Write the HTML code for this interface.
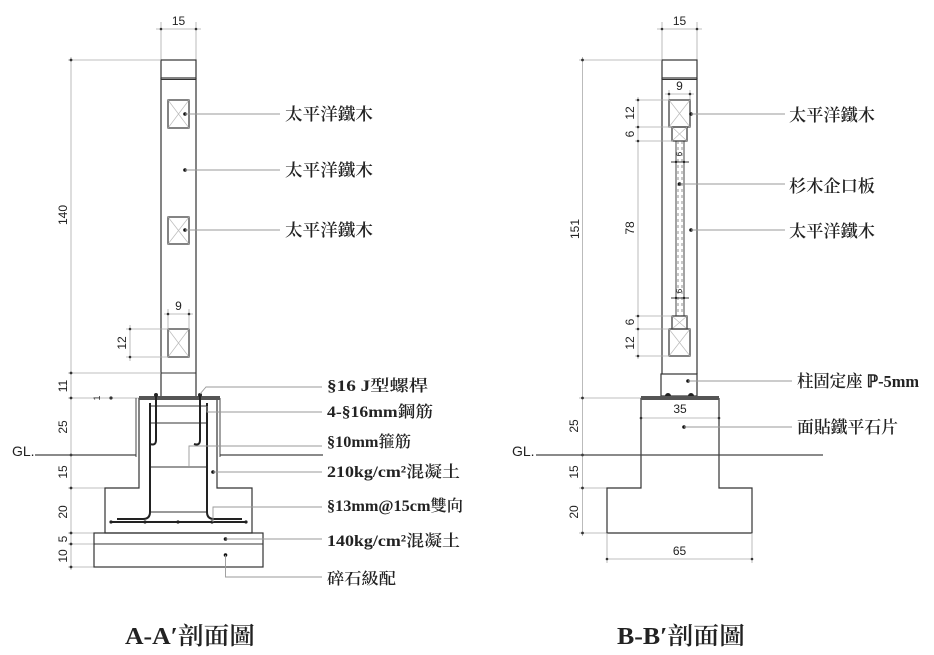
<!DOCTYPE html>
<html><head><meta charset="utf-8"><style>
html,body{margin:0;padding:0;background:#fff;}
svg{display:block;}
.m{stroke:#333;stroke-width:1.2;fill:none;}
.d{stroke:#aaa;stroke-width:0.8;fill:none;}
.l{stroke:#999;stroke-width:0.9;fill:none;}
.x{stroke:#bbb;stroke-width:0.7;fill:none;}
.r{stroke:#222;stroke-width:2;fill:none;}
.t{stroke:#333;stroke-width:0.9;fill:none;}
.dn{font-family:"Liberation Sans",sans-serif;font-size:12px;fill:#222;text-anchor:middle;}
.lb{font-family:"Liberation Serif","Noto Serif CJK SC",serif;font-size:17px;font-weight:600;fill:#222;}
.lb2{font-family:"Liberation Serif","Noto Serif CJK SC",serif;font-size:16px;font-weight:600;fill:#222;}
.gl{font-family:"Liberation Sans",sans-serif;font-size:14px;fill:#222;}
.tt{font-family:"Liberation Serif","Noto Serif CJK SC",serif;font-size:24px;font-weight:600;fill:#222;}
</style></head><body>
<svg width="934" height="655" viewBox="0 0 934 655" xmlns="http://www.w3.org/2000/svg">
<rect width="934" height="655" fill="#fff"/>

<!-- ================= LEFT (A-A') ================= -->
<!-- top dim 15 -->
<line class="d" x1="161" y1="22" x2="161" y2="60"/>
<line class="d" x1="196" y1="22" x2="196" y2="60"/>
<line class="d" x1="156" y1="29" x2="201" y2="29"/>
<circle cx="161" cy="29" r="1.3" fill="#333"/><circle cx="196" cy="29" r="1.3" fill="#333"/>
<text class="dn" x="178.5" y="25">15</text>

<!-- column -->
<rect class="m" x="161" y="60" width="35" height="18"/>
<line class="t" x1="161" y1="79.5" x2="196" y2="79.5"/>
<line class="m" x1="161" y1="78" x2="161" y2="396"/>
<line class="m" x1="196" y1="78" x2="196" y2="396"/>
<line class="t" x1="161" y1="373" x2="196" y2="373"/>

<!-- squares -->
<rect class="m" x="168" y="100" width="21" height="28"/>
<path class="x" d="M168,100 L189,128 M189,100 L168,128"/>
<rect class="m" x="168" y="217" width="21" height="27"/>
<path class="x" d="M168,217 L189,244 M189,217 L168,244"/>
<rect class="m" x="168" y="329" width="21" height="28"/>
<path class="x" d="M168,329 L189,357 M189,329 L168,357"/>

<!-- leaders top left -->
<circle cx="185" cy="114" r="1.8" fill="#111"/>
<circle cx="185" cy="170" r="1.8" fill="#111"/>
<circle cx="185" cy="230" r="1.8" fill="#111"/>
<line class="l" x1="185" y1="114" x2="280" y2="114"/>
<line class="l" x1="185" y1="170" x2="280" y2="170"/>
<line class="l" x1="185" y1="230" x2="280" y2="230"/>
<text class="lb" x="285" y="120" textLength="88" lengthAdjust="spacingAndGlyphs">太平洋鐵木</text>
<text class="lb" x="285" y="176" textLength="88" lengthAdjust="spacingAndGlyphs">太平洋鐵木</text>
<text class="lb" x="285" y="236" textLength="88" lengthAdjust="spacingAndGlyphs">太平洋鐵木</text>

<!-- 9 dim -->
<line class="d" x1="168" y1="309" x2="168" y2="329"/>
<line class="d" x1="189" y1="309" x2="189" y2="329"/>
<line class="d" x1="164" y1="314" x2="193" y2="314"/>
<circle cx="168" cy="314" r="1.3" fill="#333"/><circle cx="189" cy="314" r="1.3" fill="#333"/>
<text class="dn" x="178.5" y="310">9</text>
<!-- 12 dim -->
<line class="d" x1="126" y1="329" x2="168" y2="329"/>
<line class="d" x1="126" y1="357" x2="168" y2="357"/>
<line class="d" x1="130" y1="325" x2="130" y2="361"/>
<circle cx="130" cy="329" r="1.3" fill="#333"/><circle cx="130" cy="357" r="1.3" fill="#333"/>
<text class="dn" transform="translate(126,343) rotate(-90)">12</text>

<!-- main vertical dim -->
<line class="d" x1="71" y1="57" x2="71" y2="570"/>
<line class="d" x1="68" y1="60" x2="161" y2="60"/>
<line class="d" x1="68" y1="373" x2="161" y2="373"/>
<line class="d" x1="68" y1="398" x2="139" y2="398"/>
<line class="d" x1="68" y1="488" x2="105" y2="488"/>
<line class="d" x1="68" y1="533" x2="94" y2="533"/>
<line class="d" x1="68" y1="544" x2="94" y2="544"/>
<line class="d" x1="68" y1="567" x2="94" y2="567"/>
<g fill="#333">
<circle cx="71" cy="60" r="1.4"/><circle cx="71" cy="373" r="1.4"/><circle cx="71" cy="398" r="1.4"/>
<circle cx="71" cy="455" r="1.4"/><circle cx="71" cy="488" r="1.4"/><circle cx="71" cy="533" r="1.4"/>
<circle cx="71" cy="544" r="1.4"/><circle cx="71" cy="567" r="1.4"/>
<circle cx="111" cy="398" r="1.6"/>
</g>
<text class="dn" transform="translate(67,215) rotate(-90)">140</text>
<text class="dn" transform="translate(67,386) rotate(-90)">11</text>
<text class="dn" transform="translate(67,427) rotate(-90)">25</text>
<text class="dn" transform="translate(67,472) rotate(-90)">15</text>
<text class="dn" transform="translate(67,512) rotate(-90)">20</text>
<text class="dn" transform="translate(67,539) rotate(-90)">5</text>
<text class="dn" transform="translate(67,556) rotate(-90)">10</text>
<text class="dn" style="font-size:9px" transform="translate(100,398) rotate(-90)">1</text>

<!-- GL left -->
<text class="gl" x="12" y="456">GL.</text>
<line stroke="#444" stroke-width="1.3" x1="35" y1="455" x2="136" y2="455"/>
<line stroke="#444" stroke-width="1.3" x1="220" y1="455" x2="323" y2="455"/>

<!-- foundation -->
<path class="m" d="M139,398 L139,488 L105,488 L105,533 L252,533 L252,488 L217,488 L217,398"/>
<line class="t" x1="136" y1="398" x2="136" y2="457"/>
<line class="t" x1="220" y1="398" x2="220" y2="457"/>
<rect x="139" y="396" width="81" height="4" fill="#555"/>
<rect class="m" x="94" y="533" width="169" height="34"/>
<line class="t" x1="94" y1="544" x2="263" y2="544"/>

<!-- rebars -->
<path class="t" d="M150,406 L207,406 M150,423 L207,423 M150,467 L207,467 M150,512 L207,512"/>
<path class="r" d="M150,403 L150,512 Q150,519 143,519 L117,519"/>
<path class="r" d="M207,403 L207,512 Q207,519 214,519 L242,519"/>
<line class="r" x1="110" y1="522" x2="247" y2="522"/>
<g fill="#222"><circle cx="111" cy="522" r="1.6"/><circle cx="145" cy="522" r="1.6"/><circle cx="178" cy="522" r="1.6"/><circle cx="212" cy="522" r="1.6"/><circle cx="246" cy="522" r="1.6"/></g>
<path class="r" d="M156,395 L156,440 Q156,446 150,444"/>
<path class="r" d="M200,395 L200,440 Q200,446 194,444"/>
<circle cx="156" cy="395" r="2" fill="#222"/><circle cx="200" cy="395" r="2" fill="#222"/>

<!-- leaders bottom left -->
<path class="l" d="M200,394 L206,387 L322,387"/>
<path class="l" d="M207,406 L207,412 L322,412"/>
<path class="l" d="M189,468 L189,446 L322,446"/>
<circle cx="213" cy="472" r="1.8" fill="#111"/>
<line class="l" x1="213" y1="472" x2="322" y2="472"/>
<path class="l" d="M213,522 L213,507 L322,507"/>
<circle cx="225.5" cy="539" r="1.8" fill="#111"/>
<line class="l" x1="225.5" y1="539" x2="322" y2="539"/>
<circle cx="225.5" cy="555" r="1.8" fill="#111"/>
<path class="l" d="M225.5,555 L225.5,577 L322,577"/>

<text class="lb2" x="327" y="391" textLength="101" lengthAdjust="spacingAndGlyphs">§16 J型螺桿</text>
<text class="lb2" x="327" y="417" textLength="106" lengthAdjust="spacingAndGlyphs">4-§16mm鋼筋</text>
<text class="lb2" x="327" y="447" textLength="84" lengthAdjust="spacingAndGlyphs">§10mm箍筋</text>
<text class="lb2" x="327" y="477" textLength="133" lengthAdjust="spacingAndGlyphs">210kg/cm²混凝土</text>
<text class="lb2" x="327" y="511" textLength="136" lengthAdjust="spacingAndGlyphs">§13mm@15cm雙向</text>
<text class="lb2" x="327" y="546" textLength="133" lengthAdjust="spacingAndGlyphs">140kg/cm²混凝土</text>
<text class="lb2" x="327" y="584" textLength="69" lengthAdjust="spacingAndGlyphs">碎石級配</text>

<!-- ================= RIGHT (B-B') ================= -->
<line class="d" x1="662" y1="22" x2="662" y2="60"/>
<line class="d" x1="697" y1="22" x2="697" y2="60"/>
<line class="d" x1="657" y1="29" x2="702" y2="29"/>
<circle cx="662" cy="29" r="1.3" fill="#333"/><circle cx="697" cy="29" r="1.3" fill="#333"/>
<text class="dn" x="679.5" y="25">15</text>

<rect class="m" x="662" y="60" width="35" height="18"/>
<line class="t" x1="662" y1="79.5" x2="697" y2="79.5"/>
<line class="m" x1="662" y1="78" x2="662" y2="374"/>
<line class="m" x1="697" y1="78" x2="697" y2="374"/>
<rect class="m" x="661" y="374" width="36" height="22"/>

<!-- 9 dim -->
<line class="d" x1="665" y1="94" x2="694" y2="94"/>
<line class="d" x1="669" y1="90" x2="669" y2="100"/>
<line class="d" x1="690" y1="90" x2="690" y2="100"/>
<circle cx="669" cy="94" r="1.3" fill="#333"/><circle cx="690" cy="94" r="1.3" fill="#333"/>
<text class="dn" x="679.5" y="90">9</text>

<rect class="m" x="669" y="100" width="21" height="27"/>
<path class="x" d="M669,100 L690,127 M690,100 L669,127"/>
<rect class="m" x="672" y="127" width="15" height="14"/>
<path class="x" d="M672,127 L687,141 M687,127 L672,141"/>
<rect class="m" x="672" y="316" width="15" height="13"/>
<path class="x" d="M672,316 L687,329 M687,316 L672,329"/>
<rect class="m" x="669" y="329" width="21" height="27"/>
<path class="x" d="M669,329 L690,356 M690,329 L669,356"/>

<!-- board -->
<line class="t" x1="676" y1="141" x2="676" y2="316"/>
<line class="t" x1="684" y1="141" x2="684" y2="316"/>
<line stroke="#666" stroke-width="0.7" stroke-dasharray="3,3" x1="678" y1="141" x2="678" y2="316"/>
<line stroke="#666" stroke-width="0.7" stroke-dasharray="3,3" x1="682" y1="141" x2="682" y2="316"/>
<text class="dn" style="font-size:8px" transform="translate(682,154) rotate(-90)">6</text>
<line class="t" x1="671" y1="162" x2="689" y2="162"/>
<circle cx="676" cy="162" r="1.2" fill="#222"/><circle cx="684" cy="162" r="1.2" fill="#222"/>
<text class="dn" style="font-size:8px" transform="translate(682,291) rotate(-90)">6</text>
<line class="t" x1="671" y1="298" x2="689" y2="298"/>
<circle cx="676" cy="298" r="1.2" fill="#222"/><circle cx="684" cy="298" r="1.2" fill="#222"/>

<!-- left dims right drawing -->
<line class="d" x1="638" y1="97" x2="638" y2="359"/>
<line class="d" x1="635" y1="100" x2="669" y2="100"/>
<line class="d" x1="635" y1="127" x2="672" y2="127"/>
<line class="d" x1="635" y1="141" x2="673" y2="141"/>
<line class="d" x1="635" y1="316" x2="672" y2="316"/>
<line class="d" x1="635" y1="329" x2="669" y2="329"/>
<line class="d" x1="635" y1="356" x2="669" y2="356"/>
<g fill="#333">
<circle cx="638" cy="100" r="1.3"/><circle cx="638" cy="127" r="1.3"/><circle cx="638" cy="141" r="1.3"/>
<circle cx="638" cy="316" r="1.3"/><circle cx="638" cy="329" r="1.3"/><circle cx="638" cy="356" r="1.3"/>
</g>
<text class="dn" transform="translate(634,113) rotate(-90)">12</text>
<text class="dn" transform="translate(634,134) rotate(-90)">6</text>
<text class="dn" transform="translate(634,228) rotate(-90)">78</text>
<text class="dn" transform="translate(634,322) rotate(-90)">6</text>
<text class="dn" transform="translate(634,343) rotate(-90)">12</text>

<!-- 151 dim -->
<line class="d" x1="582.5" y1="57" x2="582.5" y2="536"/>
<line class="d" x1="579" y1="60" x2="662" y2="60"/>
<line class="d" x1="579" y1="398" x2="641" y2="398"/>
<line class="d" x1="579" y1="488" x2="607" y2="488"/>
<line class="d" x1="579" y1="533" x2="607" y2="533"/>
<g fill="#333">
<circle cx="582.5" cy="60" r="1.4"/><circle cx="582.5" cy="398" r="1.4"/><circle cx="582.5" cy="455" r="1.4"/>
<circle cx="582.5" cy="488" r="1.4"/><circle cx="582.5" cy="533" r="1.4"/>
</g>
<text class="dn" transform="translate(579,229) rotate(-90)">151</text>
<text class="dn" transform="translate(578,426) rotate(-90)">25</text>
<text class="dn" transform="translate(578,472) rotate(-90)">15</text>
<text class="dn" transform="translate(578,512) rotate(-90)">20</text>

<!-- foundation right -->
<path class="m" d="M641,398 L641,488 L607,488 L607,533 L752,533 L752,488 L719,488 L719,398"/>
<rect x="641" y="396" width="78" height="4" fill="#555"/>
<path d="M665,396 A3,3 0 0 1 671,396 Z" fill="#222"/>
<path d="M688,396 A3,3 0 0 1 694,396 Z" fill="#222"/>
<!-- 35 dim -->
<line class="d" x1="641" y1="418" x2="719" y2="418"/>
<circle cx="641" cy="418" r="1.3" fill="#333"/><circle cx="719" cy="418" r="1.3" fill="#333"/>
<text class="dn" x="680" y="413">35</text>
<!-- 65 dim -->
<line class="d" x1="607" y1="533" x2="607" y2="563"/>
<line class="d" x1="752" y1="533" x2="752" y2="563"/>
<line class="d" x1="607" y1="559" x2="752" y2="559"/>
<circle cx="607" cy="559" r="1.3" fill="#333"/><circle cx="752" cy="559" r="1.3" fill="#333"/>
<text class="dn" x="679.5" y="555">65</text>

<!-- GL right -->
<text class="gl" x="512" y="456">GL.</text>
<line stroke="#444" stroke-width="1.3" x1="536" y1="455" x2="823" y2="455"/>

<!-- leaders right -->
<circle cx="691" cy="114" r="1.8" fill="#111"/>
<line class="l" x1="691" y1="114" x2="785" y2="114"/>
<circle cx="679.5" cy="184" r="1.8" fill="#111"/>
<line class="l" x1="679.5" y1="184" x2="785" y2="184"/>
<circle cx="691" cy="230" r="1.8" fill="#111"/>
<line class="l" x1="691" y1="230" x2="785" y2="230"/>
<circle cx="688" cy="381" r="1.8" fill="#111"/>
<line class="l" x1="688" y1="381" x2="792" y2="381"/>
<circle cx="684" cy="427" r="1.8" fill="#111"/>
<line class="l" x1="684" y1="427" x2="792" y2="427"/>

<text class="lb" x="789" y="121" textLength="86" lengthAdjust="spacingAndGlyphs">太平洋鐵木</text>
<text class="lb" x="789" y="192" textLength="86" lengthAdjust="spacingAndGlyphs">杉木企口板</text>
<text class="lb" x="789" y="237" textLength="86" lengthAdjust="spacingAndGlyphs">太平洋鐵木</text>
<text class="lb" x="797" y="387" textLength="122" lengthAdjust="spacingAndGlyphs">柱固定座 ℙ-5mm</text>
<text class="lb" x="797" y="433" textLength="101" lengthAdjust="spacingAndGlyphs">面貼鐵平石片</text>

<!-- titles -->
<text class="tt" x="125" y="644" textLength="130" lengthAdjust="spacingAndGlyphs">A-A′剖面圖</text>
<text class="tt" x="617" y="644" textLength="128" lengthAdjust="spacingAndGlyphs">B-B′剖面圖</text>
</svg>
</body></html>
